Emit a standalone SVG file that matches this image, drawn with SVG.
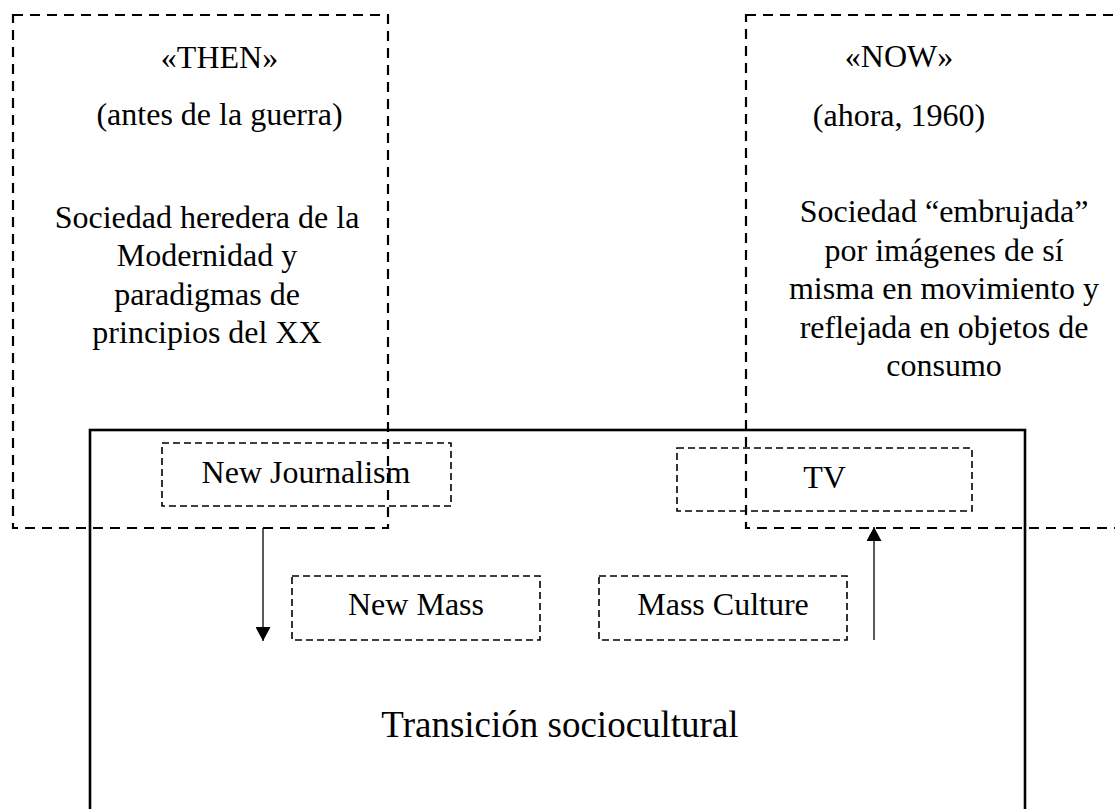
<svg xmlns="http://www.w3.org/2000/svg" width="1115" height="809" viewBox="0 0 1115 809">
<style>
text{font-family:"Liberation Serif","Times New Roman",serif;fill:#000;text-anchor:middle}
.t{font-size:32px}
.big{font-size:37px}
.outer{fill:none;stroke:#000;stroke-width:2.2;stroke-dasharray:10 7}
.inner{fill:none;stroke:#000;stroke-width:1.6;stroke-dasharray:7 4}
.solid{fill:none;stroke:#000;stroke-width:2.6}
.conn{stroke:#000;stroke-width:1.3;fill:none}
</style>
<defs>
<marker id="ah" viewBox="0 0 14 15" refX="14" refY="7.5" markerWidth="14" markerHeight="15" markerUnits="userSpaceOnUse" orient="auto">
<path d="M0,0 L14,7.5 L0,15 Z" fill="#000"/>
</marker>
</defs>
<g id="transicion">
<rect class="solid" x="90" y="430" width="935" height="400"/>
<text class="big" x="560" y="737">Transición sociocultural</text>
</g>
<g id="then">
<rect class="outer" x="13" y="15" width="375" height="513"/>
<text class="t" x="219.5" y="68">«THEN»</text>
<text class="t" x="219.5" y="125">(antes de la guerra)</text>
<text class="t" x="207" y="228">Sociedad heredera de la</text>
<text class="t" x="207" y="266">Modernidad y</text>
<text class="t" x="207" y="304.5">paradigmas de</text>
<text class="t" x="207" y="343">principios del XX</text>
</g>
<g id="now">
<rect class="outer" x="746" y="15" width="400" height="513"/>
<text class="t" x="899" y="67">«NOW»</text>
<text class="t" x="899" y="126">(ahora, 1960)</text>
<text class="t" x="944" y="222">Sociedad “embrujada”</text>
<text class="t" x="944" y="260.5">por imágenes de sí</text>
<text class="t" x="944" y="299">misma en movimiento y</text>
<text class="t" x="944" y="337.5">reflejada en objetos de</text>
<text class="t" x="944" y="376">consumo</text>
</g>
<g id="newjournalism">
<rect class="inner" x="162" y="443" width="289" height="63"/>
<text class="t" x="306" y="483">New Journalism</text>
</g>
<g id="tv">
<rect class="inner" x="677" y="448" width="295" height="63"/>
<text class="t" x="824.5" y="488">TV</text>
</g>
<g id="newmass">
<rect class="inner" x="292" y="576" width="248" height="64"/>
<text class="t" x="416" y="615">New Mass</text>
</g>
<g id="massculture">
<rect class="inner" x="599" y="576" width="248" height="64"/>
<text class="t" x="723" y="615">Mass Culture</text>
</g>
<g id="connectors">
<line class="conn" x1="263" y1="528" x2="263" y2="641" marker-end="url(#ah)"/>
<line class="conn" x1="874" y1="640" x2="874" y2="527" marker-end="url(#ah)"/>
</g>
</svg>
